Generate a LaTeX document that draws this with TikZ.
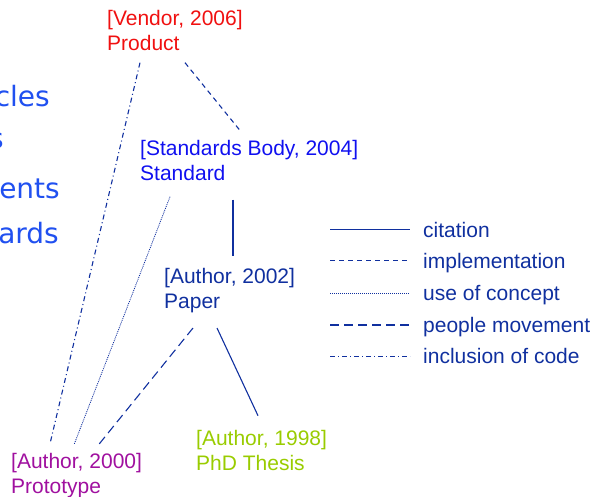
\documentclass[tikz,border=0pt]{standalone}
\usepackage{fontspec}
\setmainfont{Liberation Sans}
\newfontfamily\handfont{DejaVu Sans}
\usetikzlibrary{calc}
\definecolor{navy}{HTML}{10309F}
\definecolor{sideblue}{HTML}{2050F0}
\definecolor{stdblue}{HTML}{1010F0}
\definecolor{vendred}{HTML}{F01010}
\definecolor{protopurple}{HTML}{A0109F}
\definecolor{thesisgreen}{HTML}{99CC00}
\tikzset{
  ref/.style={anchor=north west, inner sep=0pt, align=left, font=\fontsize{21}{25}\selectfont},
  leg/.style={anchor=base west, inner sep=0pt, text=navy, font=\fontsize{21}{25}\selectfont},
  side/.style={anchor=base east, inner sep=0pt, text=sideblue, font=\handfont\fontsize{28}{30}\selectfont},
  link/.style={draw=navy, line width=1.1pt},
  cite/.style={link},
  impl/.style={link, dash pattern=on 5pt off 4pt},
  concept/.style={link, line width=0.8pt, dash pattern=on 1pt off 1pt},
  move/.style={link, dash pattern=on 9pt off 5pt},
  code/.style={link, dash pattern=on 5pt off 3pt on 1pt off 3pt},
}

\begin{document}
\begin{tikzpicture}[x=1pt, y=-1pt]
  \useasboundingbox (0,0) rectangle (596,497);

  % cut-off words at the left edge
  \node[side] (w1) at (50,107) {cles};
  \node[side] (w2) at (4,149) {s};
  \node[side] (w3) at (60,198) {ents};
  \node[side] (w4) at (59,243) {ards};

  % references
  \node[ref, text=vendred]     (vendor) at (107,9.7)  {[Vendor, 2006]\\Product};
  \node[ref, text=stdblue]     (std)    at (140,139.7) {[Standards Body, 2004]\\Standard};
  \node[ref, text=navy]        (paper)  at (164,268)  {[Author, 2002]\\Paper};
  \node[ref, text=protopurple] (proto)  at (11,452.7) {[Author, 2000]\\Prototype};
  \node[ref, text=thesisgreen] (thesis) at (196,429.7) {[Author, 1998]\\PhD Thesis};

  % links
  \draw[code]    ($(vendor.north west)+(33,53)$) -- ($(proto.north west)+(39,-9)$);
  \draw[impl]    ($(vendor.north west)+(78,53)$) -- ($(std.north west)+(101,-8)$);
  \draw[concept] ($(std.north west)+(30,57)$)    -- ($(proto.north west)+(63,-8)$);
  \draw[cite]    ($(std.north west)+(93,60)$)    -- ($(paper.north west)+(69,-12)$);
  \draw[move]    ($(paper.north west)+(29,60)$)  -- ($(proto.north west)+(86,-6)$);
  \draw[cite]    ($(paper.north west)+(53,60)$)  -- ($(thesis.north west)+(62,-14)$);

  % legend
  \node[leg] (lcite)    at (423,237) {citation};
  \node[leg] (limpl)    at (423,268) {implementation};
  \node[leg] (lconcept) at (423,300) {use of concept};
  \node[leg] (lmove)    at (423,332) {people movement};
  \node[leg] (lcode)    at (423,363) {inclusion of code};
  \draw[cite]    ($(lcite.base west)+(-93,-7.5)$)    -- ($(lcite.base west)+(-13,-7.5)$);
  \draw[impl]    ($(limpl.base west)+(-93,-7.5)$)    -- ($(limpl.base west)+(-13,-7.5)$);
  \draw[concept] ($(lconcept.base west)+(-93,-7)$)   -- ($(lconcept.base west)+(-13,-7)$);
  \draw[move]    ($(lmove.base west)+(-93,-7)$)      -- ($(lmove.base west)+(-13,-7)$);
  \draw[code]    ($(lcode.base west)+(-93,-6.5)$)    -- ($(lcode.base west)+(-13,-6.5)$);
\end{tikzpicture}
\end{document}
